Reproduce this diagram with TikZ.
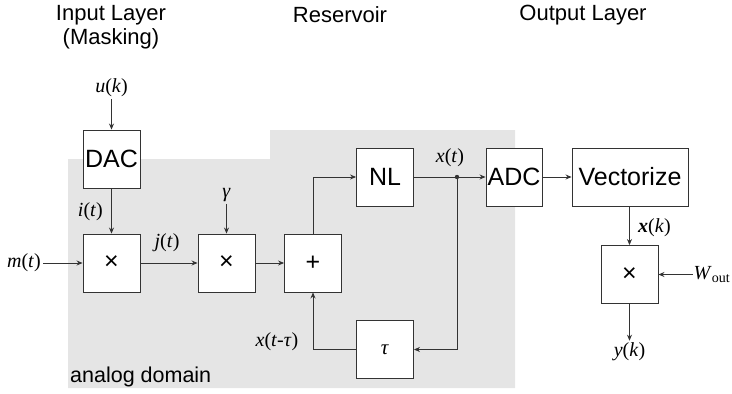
\documentclass[tikz,border=0pt]{standalone}
\usepackage{fontspec}
\setmainfont{Liberation Sans}
\newfontfamily\serifit{Liberation Serif}
\usepackage{xcolor}
\usetikzlibrary{positioning,arrows.meta,calc}
\definecolor{analoggrey}{HTML}{E5E5E5}
\definecolor{wirestroke}{HTML}{333333}
\tikzset{
  block/.style = {draw=wirestroke, fill=white, line width=0.9pt,
                  minimum width=57pt, minimum height=58pt, inner sep=0pt,
                  font=\fontsize{25}{28}\selectfont},
  wide/.style  = {block, minimum width=116pt},
  sig/.style   = {font=\serifit\fontsize{20}{22}\selectfont, inner sep=2pt},
  ttl/.style   = {font=\fontsize{22}{24}\selectfont, align=center},
  arr/.style   = {-{Stealth[length=6pt,width=5pt]}, line width=0.8pt, draw=wirestroke},
}
\newcommand{\iv}[1]{\textit{#1}}

\begin{document}
\begin{tikzpicture}[x=1pt, y=-1pt]
  \useasboundingbox (0,0) rectangle (732,394);
  % --- analog domain backdrop ---
  \fill[analoggrey] (68,159) -- (270,159) -- (270,130) -- (515,130)
        -- (515,388) -- (68,388) -- cycle;
  \node[anchor=west, font=\fontsize{21.5}{24}\selectfont, inner sep=2pt] (analog)
        at (68,377) {analog domain};

  % --- layer titles ---
  \node[ttl] (tin)  at (111,27) {Input Layer\\(Masking)};
  \node[ttl] (tres) at (340,15) {Reservoir};
  \node[ttl] (tout) at (583,15) {Output Layer};

  % --- blocks ---
  \node[block] (dac)  at (111.5,159) {DAC};
  \node[block] (mula) at (111.5,263) {×};
  \node[block] (mulb) at (226.5,263) {×};
  \node[block] (sum)  at (313,263)   {+};
  \node[block] (nl)   at (385,177)   {NL};
  \node[block] (tau)  at (385,349.5) {\serifit\fontsize{21}{22}\selectfont\iv{τ}};
  \node[block, minimum width=56pt] (adc) at (514,177) {ADC};
  \node[wide] (vec)   at (630,177)   {Vectorize};
  \node[block] (mulc) at (629.5,274.5) {×};

  % --- signals ---
  \node[sig] (uk)   at (111.5,88) {\iv{u}(\iv{k})};
  \node[sig] (mt)   at (24,263)   {\iv{m}(\iv{t})};
  \node[sig] (gam)  at (226.5,195) {\iv{γ}};
  \node[sig, inner sep=1pt] (wout) at (712,274.5) {\iv{W}\textsubscript{out}};
  \node[sig] (yk)   at (629.5,352) {\iv{y}(\iv{k})};
  \node[sig, anchor=east] (it)  at (105,212) {\iv{i}(\iv{t})};
  \node[sig] (jt)   at (167,243) {\iv{j}(\iv{t})};
  \node[sig] (xt)   at (450,158) {\iv{x}(\iv{t})};
  \node[sig] (xtt)  at (277,342) {\iv{x}(\iv{t}-\iv{τ})};
  \node[sig, anchor=west] (xk) at (636,228) {\textbf{\iv{x}}(\iv{k})};
  \coordinate (tap) at (457,177);
  \fill[wirestroke] (tap) circle (2.2pt);

  % --- wiring ---
  \draw[arr] (uk)   -- (dac);
  \draw[arr] (dac)  -- (mula);
  \draw[arr] (mt)   -- (mula);
  \draw[arr] (mula) -- (mulb);
  \draw[arr] (gam)  -- (mulb);
  \draw[arr] (mulb) -- (sum);
  \draw[arr] (sum.north) |- (nl.west);
  \draw[arr] (nl)   -- (adc);
  \draw[arr] (tap)  |- (tau.east);
  \draw[arr] (tau.west) -| (sum.south);
  \draw[arr] (adc)  -- (vec);
  \draw[arr] (vec.south -| mulc.north) -- (mulc.north);
  \draw[arr] (wout) -- (mulc);
  \draw[arr] (mulc) -- (yk);
\end{tikzpicture}
\end{document}
